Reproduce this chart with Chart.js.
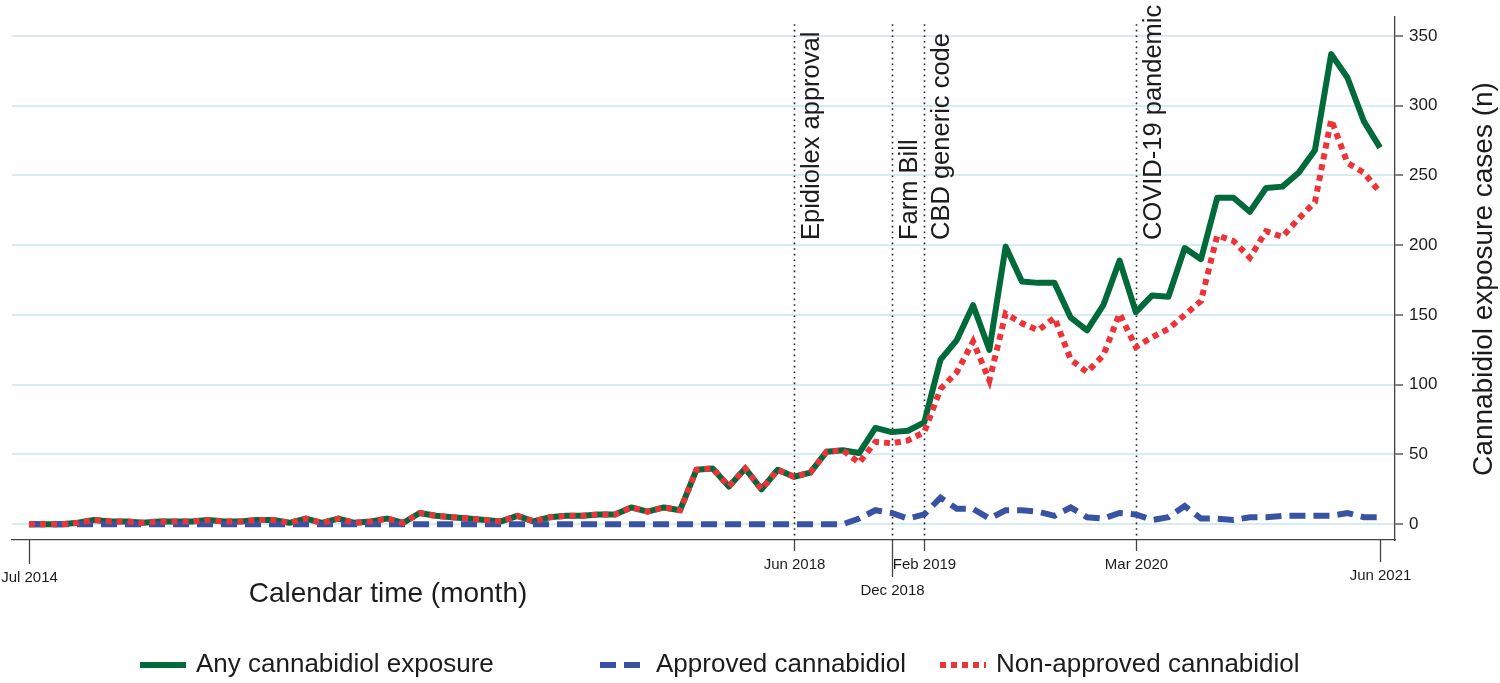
<!DOCTYPE html>
<html>
<head>
<meta charset="utf-8">
<script src="https://cdn.jsdelivr.net/npm/chart.js@4.4.1/dist/chart.umd.min.js"></script>
<style>
  html, body { margin: 0; padding: 0; background: #fff; }
  #wrap { width: 1500px; height: 683px; }
</style>
</head>
<body>
<div id="wrap"><canvas id="cbd" width="1500" height="683"></canvas></div>
<script>
// ── Cannabidiol exposure cases per month, Jul 2014 – Jun 2021 ──────────────

// month index 0 = Jul 2014 ... 83 = Jun 2021
const anyCbd = [
  0, 0, 0, 1, 3, 2, 2, 1, 2, 2, 2, 3, 2, 2, 3, 3, 1, 4, 1, 4,
  1, 2, 4, 1, 8, 6, 5, 4, 3, 2, 6, 2, 5, 6, 6, 7, 7, 12, 9, 12,
  10, 39, 40, 27, 40, 25, 39, 34, 37, 52, 53, 51, 69, 66, 67, 73, 118, 132, 157, 125,
  199, 174, 173, 173, 148, 139, 157, 189, 152, 164, 163, 198, 190, 234, 234, 224, 241, 242, 252, 268,
  337, 320, 289, 270
];
const approvedCbd = [
  0, 0, 0, 0, 0, 0, 0, 0, 0, 0, 0, 0, 0, 0, 0, 0, 0, 0, 0, 0,
  0, 0, 0, 0, 0, 0, 0, 0, 0, 0, 0, 0, 0, 0, 0, 0, 0, 0, 0, 0,
  0, 0, 0, 0, 0, 0, 0, 0, 0, 0, 0, 4, 10, 8, 4, 7, 19, 11, 11, 4,
  10, 10, 9, 6, 12, 5, 4, 8, 7, 3, 5, 13, 4, 4, 3, 5, 5, 6, 6, 6,
  6, 8, 5, 5
];
const nonApprovedCbd = [
  0, 0, 0, 1, 3, 2, 2, 1, 2, 2, 2, 3, 2, 2, 3, 3, 1, 4, 1, 4,
  1, 2, 4, 1, 8, 6, 5, 4, 3, 2, 6, 2, 5, 6, 6, 7, 7, 12, 9, 12,
  10, 39, 40, 27, 40, 25, 39, 34, 37, 52, 53, 44, 59, 58, 60, 66, 97, 109, 131, 103,
  151, 144, 139, 148, 118, 109, 121, 151, 127, 134, 140, 150, 160, 207, 203, 191, 210, 206, 219, 231,
  290, 259, 252, 238
];
const seriesNames = ['Any cannabidiol exposure', 'Approved cannabidiol', 'Non-approved cannabidiol'];

const yTicks = [0, 50, 100, 150, 200, 250, 300, 350];
const xTickMonths = [0, 47, 53, 55, 68, 83];
const xTickLabels = ['Jul 2014', 'Jun 2018', 'Dec 2018', 'Feb 2019', 'Mar 2020', 'Jun 2021'];
const eventMonths = [47, 53, 55, 68];
const eventLabels = ['Epidiolex approval', 'Farm Bill', 'CBD generic code', 'COVID-19 pandemic'];

const FONT = '"Liberation Sans", Arial, Helvetica, sans-serif';
const INK = '#1c1c1c';
const tickDrop = [24, 11, 37, 11, 11, 22];   // staggered x tick lengths
const legendX = [140, 600, 940];

const toPts = arr => arr.map((v, i) => ({ x: i, y: v }));

const overlay = {
    id: 'overlay',
    beforeDatasetsDraw(chart) {
        const { ctx, chartArea: a, scales: { x } } = chart;
        ctx.save();
        ctx.strokeStyle = '#222';
        ctx.lineWidth = 1.6;
        ctx.setLineDash([1.6, 4]);
        eventMonths.forEach(m => {
            const px = Math.round(x.getPixelForValue(m)) + 0.5;
            ctx.beginPath();
            ctx.moveTo(px, a.top + 8);
            ctx.lineTo(px, a.bottom);
            ctx.stroke();
        });
        ctx.restore();
    },
    afterDraw(chart) {
        const { ctx, chartArea: a, scales: { x } } = chart;
        ctx.save();
        ctx.fillStyle = INK;

        // event labels, rotated
        ctx.font = `25.5px ${FONT}`;
        ctx.textAlign = 'left';
        ctx.textBaseline = 'alphabetic';
        eventMonths.forEach((m, i) => {
            ctx.save();
            ctx.translate(x.getPixelForValue(m) + 25, 240);
            ctx.rotate(-Math.PI / 2);
            ctx.fillText(eventLabels[i], 0, 0);
            ctx.restore();
        });

        // x ticks + labels
        ctx.strokeStyle = '#444';
        ctx.lineWidth = 1.3;
        ctx.font = `15px ${FONT}`;
        ctx.textAlign = 'center';
        ctx.textBaseline = 'middle';
        xTickMonths.forEach((m, i) => {
            const px = Math.round(x.getPixelForValue(m)) + 0.5;
            const end = a.bottom + tickDrop[i];
            ctx.beginPath();
            ctx.moveTo(px, a.bottom);
            ctx.lineTo(px, end);
            ctx.stroke();
            ctx.fillText(xTickLabels[i], px, end + 14);
        });

        // axis titles
        ctx.font = `28px ${FONT}`;
        ctx.fillText('Calendar time (month)', 388, 594);
        ctx.save();
        ctx.translate(1484, 279);
        ctx.rotate(-Math.PI / 2);
        ctx.fillText('Cannabidiol exposure cases (n)', 0, 0);
        ctx.restore();

        // legend
        const ly = 665;
        ctx.font = `26px ${FONT}`;
        chart.data.datasets.forEach((ds, i) => {
            const lx = legendX[i];
            ctx.save();
            ctx.strokeStyle = ds.borderColor;
            ctx.lineWidth = ds.borderWidth;
            ctx.lineCap = 'butt';
            ctx.setLineDash(ds.borderDash || []);
            ctx.beginPath();
            ctx.moveTo(lx, ly);
            ctx.lineTo(lx + 46, ly);
            ctx.stroke();
            ctx.restore();
            ctx.textAlign = 'left';
            ctx.fillText(ds.label, lx + 56, ly);
        });
        ctx.restore();
    }
};

new Chart(document.getElementById('cbd'), {
    type: 'line',
    data: {
        datasets: [
            {
                label: seriesNames[0], data: toPts(anyCbd), order: 3,
                borderColor: '#006a3b', borderWidth: 6, borderJoinStyle: 'round'
            },
            {
                label: seriesNames[1], data: toPts(approvedCbd), order: 2,
                borderColor: '#3953a4', borderWidth: 6, borderDash: [16, 8], borderCapStyle: 'butt'
            },
            {
                label: seriesNames[2], data: toPts(nonApprovedCbd), order: 1,
                borderColor: '#ee3338', borderWidth: 6, borderDash: [6, 5], borderCapStyle: 'butt'
            }
        ]
    },
    options: {
        responsive: false,
        animation: false,
        devicePixelRatio: 1,
        layout: { padding: { left: 12, top: 10, right: 0, bottom: 0 } },
        elements: { point: { radius: 0 }, line: { tension: 0, fill: false } },
        plugins: { legend: { display: false }, tooltip: { enabled: false } },
        scales: {
            x: {
                type: 'linear',
                min: -1.044,
                max: 83.92,
                grid: { display: false },
                border: { display: true, color: '#444', width: 1.3 },
                ticks: { display: false },
                afterFit: s => { s.height = 143; }
            },
            y: {
                position: 'right',
                min: -11.336,
                max: 364.17,
                afterBuildTicks: s => { s.ticks = yTicks.map(v => ({ value: v })); },
                grid: { color: '#d8ebee', lineWidth: 2, tickColor: '#333', tickLength: 8, tickWidth: 1.2 },
                border: { display: true, color: '#444', width: 1.3 },
                ticks: { color: INK, font: { family: FONT, size: 17 }, padding: 6 },
                afterFit: s => { s.width = 105; }
            }
        }
    },
    plugins: [overlay]
});
</script>
</body>
</html>
